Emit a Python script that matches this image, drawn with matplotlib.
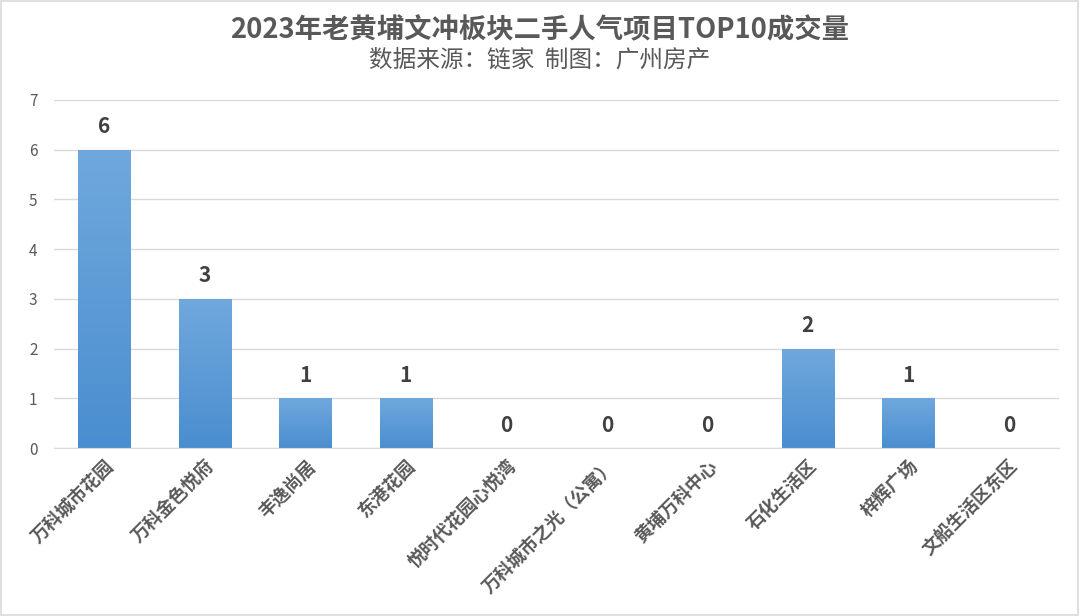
import matplotlib
matplotlib.use("Agg")
import matplotlib.pyplot as plt
import numpy as np
from matplotlib.patches import Rectangle
from matplotlib.colors import LinearSegmentedColormap

plt.rcParams['font.family'] = ['Noto Sans CJK SC', 'DejaVu Sans']

# data
projects = ['万科城市花园', '万科金色悦府', '丰逸尚居', '东港花园', '悦时代花园心悦湾',
            '万科城市之光（公寓）', '黄埔万科中心', '石化生活区', '梓辉广场', '文船生活区东区']
deals = [6, 3, 1, 1, 0, 0, 0, 2, 1, 0]
yticks = [0, 1, 2, 3, 4, 5, 6, 7]

title = '2023年老黄埔文冲板块二手人气项目TOP10成交量'
subtitle = '数据来源：链家  制图：广州房产'

text_gray = '#595959'

fig = plt.figure(figsize=(10.8, 6.16), dpi=100)
ax = fig.add_axes([0.05, 0.2727, 0.9306, 0.5650])

x = np.arange(len(projects))
bars = ax.bar(x, deals, width=0.52, color='none', edgecolor='none', zorder=2)

# gradient fill for each bar (lighter on top, darker at bottom)
cmap = LinearSegmentedColormap.from_list('bar', ['#4a8ecf', '#70a8dd'])
grad = np.linspace(0, 1, 256).reshape(-1, 1)
for b in bars:
    h = b.get_height()
    if h <= 0:
        continue
    x0 = b.get_x()
    w = b.get_width()
    im = ax.imshow(grad, cmap=cmap, aspect='auto', origin='lower',
                   extent=[x0, x0 + w, 0, h], zorder=2)
    im.set_clip_path(b)

for xi, v in zip(x, deals):
    ax.annotate(str(v), (xi, v), xytext=(0, 9), textcoords='offset points',
                ha='center', va='bottom', fontsize=15, fontweight='bold',
                color='#404040')

ax.set_xlim(-0.5, len(projects) - 0.5)
ax.set_ylim(0, 7)
ax.set_yticks(yticks)
ax.yaxis.grid(True, color='#d9d9d9', linewidth=1)
ax.set_axisbelow(True)
for s in ['top', 'right', 'left']:
    ax.spines[s].set_visible(False)
ax.spines['bottom'].set_color('#d9d9d9')
ax.tick_params(axis='y', length=0, labelsize=11, labelcolor=text_gray, pad=12)
ax.tick_params(axis='x', length=0, pad=6)
ax.set_xticks(x)
ax.set_xticklabels(projects, rotation=45, ha='right', rotation_mode='anchor',
                   fontsize=13, fontweight='bold', color=text_gray)

fig.text(0.5, 0.951, title, ha='center', va='center', fontsize=19.7,
         fontweight='bold', color=text_gray)
fig.text(0.5, 0.903, subtitle, ha='center', va='center', fontsize=17,
         color=text_gray)

fig.patches.append(Rectangle((0.001, 0.002), 0.997, 0.996, transform=fig.transFigure,
                             fill=False, edgecolor='#d9d9d9', linewidth=1.2))

fig.savefig('out.png', dpi=100, facecolor='white')
